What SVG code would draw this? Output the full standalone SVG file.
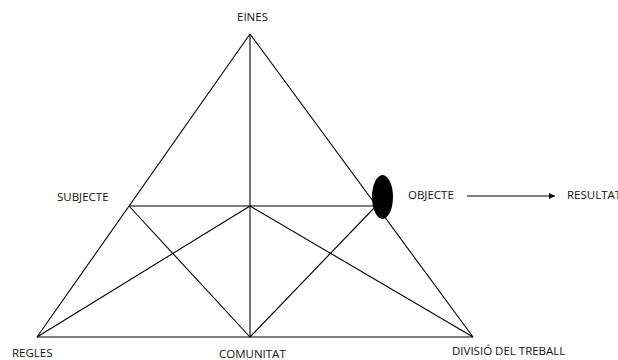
<svg xmlns="http://www.w3.org/2000/svg" width="618" height="360" viewBox="0 0 618 360">
<style>
.lbl{font-family:"Open Sans","Liberation Sans",sans-serif;font-size:11.5px;fill:#111}
.ln{stroke:#000;stroke-width:1.1;fill:none}
</style>
<defs>
<marker id="ah" viewBox="0 0 10 10" refX="10" refY="5" markerWidth="7" markerHeight="6" markerUnits="userSpaceOnUse" orient="auto">
<path d="M0,0 L10,5 L0,10 z" fill="#000"/>
</marker>
</defs>
<rect width="618" height="360" fill="#fff"/>
<g id="connectors">
<line class="ln" x1="250" y1="34" x2="37" y2="337"/>
<line class="ln" x1="250" y1="34" x2="473" y2="337"/>
<line class="ln" x1="37" y1="337" x2="473" y2="337"/>
<line class="ln" x1="250" y1="34" x2="250" y2="337"/>
<line class="ln" x1="129" y1="206" x2="376" y2="206"/>
<line class="ln" x1="129" y1="206" x2="250" y2="337"/>
<line class="ln" x1="376" y1="206" x2="250" y2="337"/>
<line class="ln" x1="37" y1="337" x2="250" y2="206"/>
<line class="ln" x1="473" y1="337" x2="250" y2="206"/>
<line class="ln" x1="467" y1="196" x2="555" y2="196" marker-end="url(#ah)"/>
</g>
<g id="eines"><text class="lbl" x="237" y="20.5">EINES</text></g>
<g id="subjecte"><text class="lbl" x="57" y="201">SUBJECTE</text></g>
<g id="objecte">
<ellipse cx="382.5" cy="197" rx="10.5" ry="22" fill="#000"/>
<text class="lbl" x="408" y="199">OBJECTE</text>
</g>
<g id="resultat"><text class="lbl" x="567" y="199">RESULTAT</text></g>
<g id="regles"><text class="lbl" x="12" y="357">REGLES</text></g>
<g id="comunitat"><text class="lbl" x="219" y="358">COMUNITAT</text></g>
<g id="divisio"><text class="lbl" x="452" y="355">DIVISIÓ DEL TREBALL</text></g>
</svg>
